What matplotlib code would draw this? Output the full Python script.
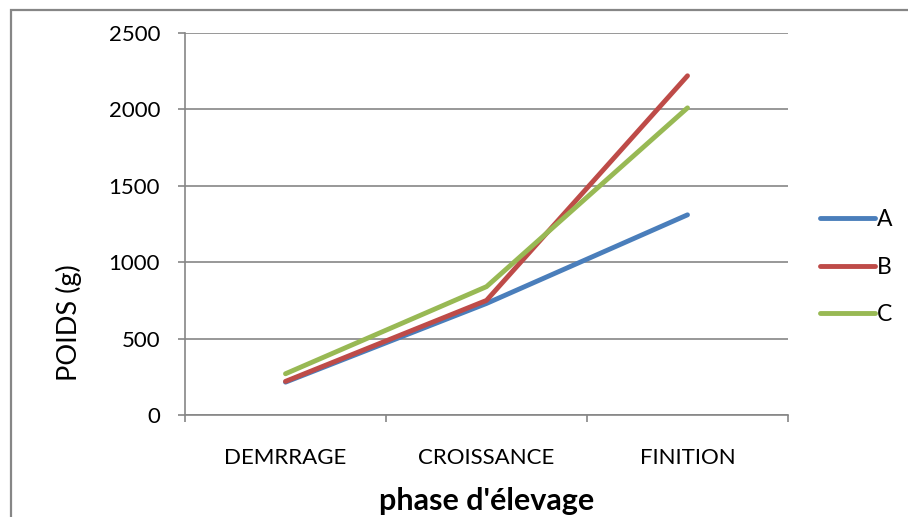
import matplotlib
matplotlib.use("Agg")
import matplotlib.pyplot as plt
from matplotlib.patches import Rectangle

plt.rcParams["font.family"] = ["Lato", "DejaVu Sans"]

phases = ["DEMRRAGE", "CROISSANCE", "FINITION"]
poids_a = [215, 730, 1310]
poids_b = [220, 750, 2220]
poids_c = [270, 840, 2010]
yticks = [0, 500, 1000, 1500, 2000, 2500]

grey = "#868686"
fig = plt.figure(figsize=(9.08, 5.17), dpi=100)
fig.patches.append(Rectangle((11 / 908, -0.1), 1.2, 1 - 10 / 517 + 0.1,
                             transform=fig.transFigure, fill=False,
                             edgecolor=grey, linewidth=1.6))

ax = fig.add_axes([185 / 908, 102 / 517, 603 / 908, 382 / 517])
x = range(len(phases))
for vals, name, col in [(poids_a, "A", "#4A7EBB"), (poids_b, "B", "#BE4B48"),
                        (poids_c, "C", "#98B954")]:
    ax.plot(x, vals, color=col, linewidth=3.5, solid_capstyle="round",
            solid_joinstyle="round", label=name)

ax.set_xlim(-0.5, 2.5)
ax.set_ylim(0, 2500)
ax.set_yticks(yticks)
ax.set_xticks([-0.5, 0.5, 1.5, 2.5])
ax.set_xticklabels([])
ax.set_xticks(list(x), minor=True)
ax.set_xticklabels(phases, minor=True, fontsize=16)
ax.tick_params(axis="x", which="minor", length=0, pad=24)
ax.tick_params(axis="x", which="major", length=5, color=grey, width=1.2)
ax.tick_params(axis="y", length=5, color=grey, width=1.2, labelsize=16, pad=13)
ax.yaxis.grid(True, color=grey, linewidth=1.2)
ax.set_axisbelow(True)
for s in ["top", "right"]:
    ax.spines[s].set_visible(False)
for s in ["left", "bottom"]:
    ax.spines[s].set_color(grey)
    ax.spines[s].set_linewidth(1.2)

fig.text(487 / 908, 1 - 501 / 517, "phase d'élevage", ha="center", va="center",
         fontsize=22, fontweight="bold")
fig.text(69 / 908, 1 - 323 / 517, "POIDS (g)", ha="center", va="center",
         rotation=90, fontsize=19.5)

leg = ax.legend(loc="center left", bbox_to_anchor=(1.038, 0.387), frameon=False,
                fontsize=16.5, handlelength=2.4, handletextpad=0.1,
                labelspacing=1.15, borderaxespad=0)

fig.savefig("out.png", dpi=100)
